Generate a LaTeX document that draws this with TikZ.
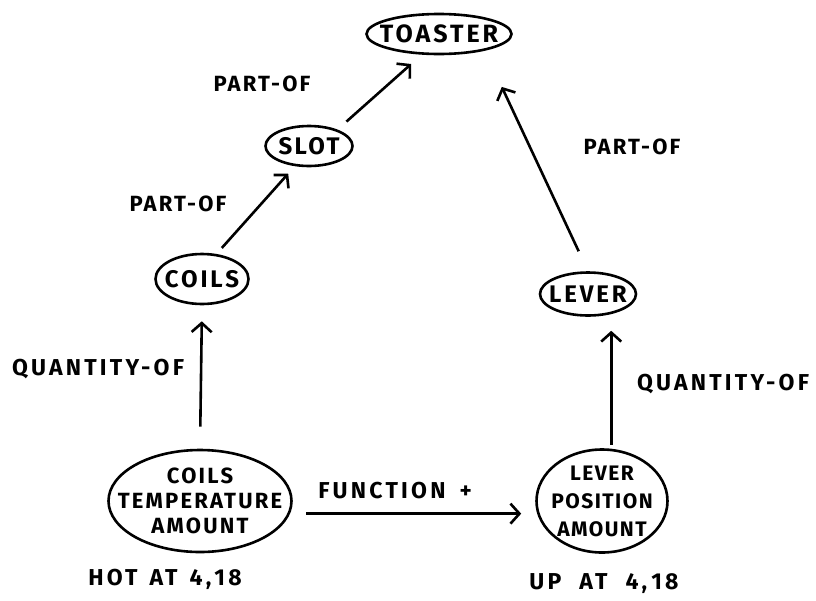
\documentclass[tikz,border=0pt]{standalone}
\usepackage{fontspec}
\setmainfont{Fira Sans}
\usetikzlibrary{shapes.geometric,arrows.meta}
\begin{document}
\begin{tikzpicture}[x=1pt,y=-1pt,
  concept/.style={draw,ellipse,line width=2.6pt,inner sep=0pt},
  ctext/.style={inner sep=0pt,align=center,
    font=\fontsize{22}{25}\selectfont\bfseries\addfontfeature{LetterSpace=10}},
  rel/.style={inner sep=0pt,
    font=\fontsize{23}{25}\selectfont\bfseries\addfontfeature{LetterSpace=14}},
  link/.style={line width=2.6pt,-{Straight Barb[length=9pt,width=20pt,line width=2.6pt]}}]
\useasboundingbox[fill=white] (0,0) rectangle (816,600);

% concept ellipses
\node[concept,minimum width=145pt,minimum height=40pt] (toaster) at (439,34) {};
\node[concept,minimum width=87pt,minimum height=40pt] (slot) at (309,146) {};
\node[concept,minimum width=93pt,minimum height=50pt] (coils) at (202,279) {};
\node[concept,minimum width=96pt,minimum height=43pt] (lever) at (588,294) {};
\node[concept,minimum width=183pt,minimum height=102pt] (cta) at (200,501) {};
\node[concept,minimum width=131pt,minimum height=103pt] (lpa) at (602,501) {};

% concept names
\node[ctext,font=\fontsize{25}{25}\selectfont\bfseries\addfontfeature{LetterSpace=12}] (toaster-t) at (toaster) {TOASTER};
\node[ctext,font=\fontsize{24}{25}\selectfont\bfseries\addfontfeature{LetterSpace=10}] (slot-t) at (slot) {SLOT};
\node[ctext,font=\fontsize{24}{25}\selectfont\bfseries\addfontfeature{LetterSpace=12}] (coils-t) at (coils) {COILS};
\node[ctext,font=\fontsize{24}{25}\selectfont\bfseries\addfontfeature{LetterSpace=12}] (lever-t) at (lever) {LEVER};
\node[ctext] (cta-t) at (cta) {COILS\\TEMPERATURE\\AMOUNT};
\node[ctext,font=\fontsize{21}{28}\selectfont\bfseries\addfontfeature{LetterSpace=7}] (lpa-t) at (lpa) {LEVER\\POSITION\\AMOUNT};

% relation labels
\node[rel,font=\fontsize{22}{25}\selectfont\bfseries\addfontfeature{LetterSpace=10}] (p1) at (262,84) {PART-OF};
\node[rel,font=\fontsize{22}{25}\selectfont\bfseries\addfontfeature{LetterSpace=10}] (p2) at (178,204) {PART-OF};
\node[rel,font=\fontsize{22}{25}\selectfont\bfseries\addfontfeature{LetterSpace=10}] (p3) at (632,147) {PART-OF};
\node[rel] (q1) at (98,369) {QUANTITY-OF};
\node[rel] (q2) at (723,384) {QUANTITY-OF};
\node[rel] (fn) at (395,491) {FUNCTION\hspace{14pt}+};
\node[rel] (v1) at (165,579) {HOT\hspace{12pt}AT\hspace{12pt}4,\hspace{3pt}18};
\node[rel] (v2) at (604,584) {UP\hspace{18pt}AT\hspace{18pt}4,\hspace{4pt}18};

% connectors
\draw[link,shorten <=22pt,shorten >=16pt] (cta.north) -- (coils.south);
\draw[link,shorten <=8pt,shorten >=10pt] (coils.60) -- (slot.235);
\draw[link,shorten <=12pt,shorten >=14pt] (slot.30) -- (toaster.230);
\draw[link,shorten <=4pt,shorten >=14pt] (lpa.80) -- (lpa.80 |- lever.south);
\draw[link,shorten <=22pt,shorten >=40pt] (lever.north) -- (toaster.340);
\draw[link,shorten <=16pt,shorten >=14pt] (cta.-8) -- (cta.-8 -| lpa.west);
\end{tikzpicture}
\end{document}
